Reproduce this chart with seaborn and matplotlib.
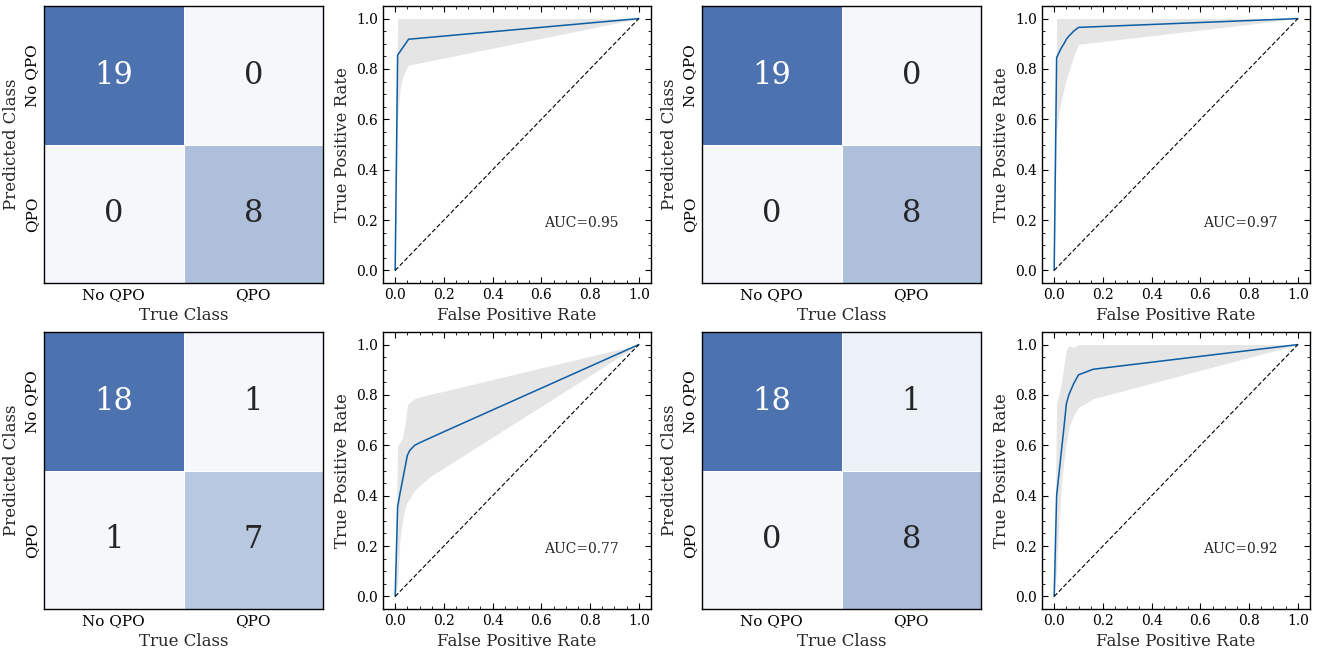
import matplotlib
matplotlib.use("Agg")
import matplotlib.pyplot as plt
import seaborn as sns
import numpy as np
from matplotlib.ticker import FixedLocator, AutoMinorLocator

# confusion matrices (rows = predicted, cols = true)
classes = ["No QPO", "QPO"]
cm_a = [[19, 0], [0, 8]]
cm_b = [[19, 0], [0, 8]]
cm_c = [[18, 1], [1, 7]]
cm_d = [[18, 1], [0, 8]]

# ROC curves: mean tpr with shaded band
fpr_a = [0, 0.01, 0.02, 0.03, 0.04, 0.055, 1.0]
tpr_a = [0, 0.855, 0.869, 0.883, 0.897, 0.918, 1.0]
low_a = [0, 0.60, 0.72, 0.765, 0.79, 0.815, 1.0]
up_a = [0, 1.0, 1.0, 1.0, 1.0, 1.0, 1.0]
auc_a = 0.95

fpr_b = [0, 0.01, 0.02, 0.03, 0.04, 0.05, 0.06, 0.08, 0.1, 1.0]
tpr_b = [0, 0.845, 0.865, 0.885, 0.90, 0.918, 0.93, 0.95, 0.965, 1.0]
low_b = [0, 0.55, 0.63, 0.68, 0.72, 0.76, 0.79, 0.85, 0.898, 1.0]
up_b = [0, 1.0, 1.0, 1.0, 1.0, 1.0, 1.0, 1.0, 1.0, 1.0]
auc_b = 0.97

fpr_c = [0, 0.01, 0.02, 0.03, 0.04, 0.05, 0.06, 0.08, 0.1, 0.15, 0.2, 1.0]
tpr_c = [0, 0.355, 0.41, 0.46, 0.51, 0.56, 0.58, 0.60, 0.61, 0.632, 0.654, 1.0]
low_c = [0, 0.05, 0.23, 0.30, 0.35, 0.375, 0.39, 0.42, 0.44, 0.48, 0.51, 1.0]
up_c = [0, 0.60, 0.61, 0.63, 0.68, 0.76, 0.772, 0.785, 0.792, 0.804, 0.815, 1.0]
auc_c = 0.77

fpr_d = [0, 0.01, 0.02, 0.03, 0.04, 0.05, 0.06, 0.08, 0.1, 0.16, 1.0]
tpr_d = [0, 0.40, 0.49, 0.58, 0.67, 0.765, 0.80, 0.845, 0.88, 0.902, 1.0]
low_d = [0, 0.10, 0.30, 0.45, 0.54, 0.61, 0.67, 0.72, 0.75, 0.785, 1.0]
up_d = [0, 0.77, 0.80, 0.85, 0.92, 0.98, 0.995, 0.99, 1.0, 1.0, 1.0]
auc_d = 0.92

sns.set_style("ticks")
plt.rcParams["font.family"] = ["DejaVu Serif"]
plt.rcParams.update({
    "xtick.direction": "in", "ytick.direction": "in",
    "xtick.top": True, "ytick.right": True,
    "xtick.major.size": 4, "ytick.major.size": 4,
    "xtick.minor.size": 2, "ytick.minor.size": 2,
    "xtick.major.width": 0.8, "ytick.major.width": 0.8,
    "xtick.minor.width": 0.6, "ytick.minor.width": 0.6,
    "xtick.color": "black", "ytick.color": "black",
    "axes.edgecolor": "black", "axes.linewidth": 1.0,
    "xtick.labelsize": 10, "ytick.labelsize": 10,
    "axes.labelsize": 12,
})

cmap = sns.blend_palette(["#f5f7fb", "#4c72b0"], as_cmap=True)


def cm_plot(ax, cm):
    sns.heatmap(np.array(cm), ax=ax, cmap=cmap, annot=True, fmt="d", cbar=False,
                linewidths=0.6, linecolor="white", annot_kws={"size": 22},
                xticklabels=classes, yticklabels=classes)
    for s in ax.spines.values():
        s.set_visible(True)
        s.set_color("black")
        s.set_linewidth(1.0)
    ax.set_yticklabels(classes, rotation=90, va="center", fontsize=11)
    ax.set_xticklabels(classes, rotation=0, fontsize=11)
    minors = [0.1, 0.3, 0.7, 0.9, 1.1, 1.3, 1.7, 1.9]
    ax.xaxis.set_minor_locator(FixedLocator(minors))
    ax.yaxis.set_minor_locator(FixedLocator(minors))
    ax.tick_params(which="both", direction="in", top=True, right=True,
                   bottom=True, left=True)
    ax.set_xlabel("True Class")
    ax.set_ylabel("Predicted Class")


def roc_plot(ax, fpr, tpr, low, up, auc):
    ax.fill_between(fpr, low, up, color="grey", alpha=0.2, lw=0)
    sns.lineplot(x=fpr, y=tpr, ax=ax, color="#0C5DA5", lw=1.1, sort=False)
    sns.lineplot(x=[0, 1], y=[0, 1], ax=ax, color="black", lw=0.8,
                 linestyle=(0, (4, 2)))
    ax.set_xticks([0, 0.2, 0.4, 0.6, 0.8, 1.0])
    ax.set_yticks([0, 0.2, 0.4, 0.6, 0.8, 1.0])
    ax.xaxis.set_minor_locator(AutoMinorLocator())
    ax.yaxis.set_minor_locator(AutoMinorLocator())
    ax.tick_params(which="both", direction="in", top=True, right=True)
    ax.text(0.61, 0.19, "AUC=%.2f" % auc, fontsize=10, va="center")
    ax.set_xlabel("False Positive Rate")
    ax.set_ylabel("True Positive Rate")


fig = plt.figure(figsize=(13.33, 6.52), dpi=100)
W, H = 1333, 652
lefts_cm = [44, 702]
lefts_roc = [383, 1042]
tops = [6, 332]
cw, rw, ph = 279, 268, 277

cms = [cm_a, cm_b, cm_c, cm_d]
rocs = [(fpr_a, tpr_a, low_a, up_a, auc_a), (fpr_b, tpr_b, low_b, up_b, auc_b),
        (fpr_c, tpr_c, low_c, up_c, auc_c), (fpr_d, tpr_d, low_d, up_d, auc_d)]

k = 0
for r in range(2):
    for c in range(2):
        y0 = (H - tops[r] - ph) / H
        ax1 = fig.add_axes([lefts_cm[c] / W, y0, cw / W, ph / H])
        cm_plot(ax1, cms[k])
        ax2 = fig.add_axes([lefts_roc[c] / W, y0, rw / W, ph / H])
        roc_plot(ax2, *rocs[k])
        k += 1

fig.savefig("out.png", dpi=100)
